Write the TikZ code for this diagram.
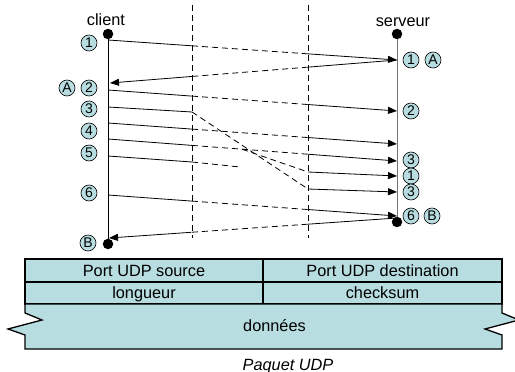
\documentclass[tikz,border=0pt]{standalone}
\usepackage{fontspec}
\setmainfont{Liberation Sans}
\usetikzlibrary{arrows.meta,calc}
\definecolor{pale}{RGB}{184,221,224}
\definecolor{srvgray}{RGB}{115,115,115}
\begin{document}
\begin{tikzpicture}[x=1pt,y=-1pt,
  num/.style={circle,draw=black,fill=pale,line width=0.6pt,inner sep=0pt,minimum size=16pt,font=\fontsize{14}{15}\selectfont},
  lbl/.style={inner sep=0pt,anchor=base,font=\fontsize{16.3}{19}\selectfont},
  msg/.style={line width=0.8pt},
  dmsg/.style={line width=0.8pt,dash pattern=on 6pt off 4pt},
  amsg/.style={line width=0.8pt,-{Triangle[length=9pt,width=7pt]}},
  net/.style={line width=0.8pt,dash pattern=on 6pt off 4pt},
  cell/.style={draw=black,fill=pale,line width=1.3pt},
  dot/.style={circle,fill=black,inner sep=0pt,minimum size=10.5pt}
]
\clip (0,0) rectangle (515,372);

% network zone borders
\coordinate (n1t) at (192,5); \coordinate (n1b) at (192,238);
\coordinate (n2t) at (308,5); \coordinate (n2b) at (308,238);
\draw[net] (n1t) -- (n1b);
\draw[net] (n2t) -- (n2b);

% timelines
\coordinate (ctp) at (108,34); \coordinate (cbp) at (108,244);
\coordinate (stp) at (397,34); \coordinate (sbp) at (397,222);
\draw[line width=0.8pt] (ctp) -- (cbp);
\draw[line width=1pt,srvgray] (stp) -- (sbp);
\node[dot] (ct) at (ctp) {};
\node[dot] (cb) at (cbp) {};
\node[dot] (st) at (stp) {};

\node[lbl] (client) at (106,26) {client};
\node[lbl] (serveur) at (403,26.5) {serveur};

% message end points
\coordinate (m1s) at (108,40);  \coordinate (m1e) at (397,60);
\coordinate (mAs) at (397,60);  \coordinate (mAe) at (110,83);
\coordinate (m2s) at (108,90);  \coordinate (m2e) at (397,111);
\coordinate (m4s) at (108,123); \coordinate (m4e) at (397,144);
\coordinate (mXs) at (108,139); \coordinate (mXe) at (397,161);
\coordinate (m6s) at (108,195); \coordinate (m6e) at (397,216);
\coordinate (mBs) at (397,218); \coordinate (mBe) at (109,238);

% client -> server messages (solid / dashed in network / solid)
\foreach \m in {m1,m2,m4,mX,m6}{
  \draw[msg] (\m s) -- ($(\m s)!0.2907!(\m e)$);
  \draw[dmsg] ($(\m s)!0.2907!(\m e)$) -- ($(\m s)!0.692!(\m e)$);
  \draw[amsg] ($(\m s)!0.692!(\m e)$) -- (\m e);
}
% server -> client messages
\foreach \m in {mA,mB}{
  \draw[msg] (\m s) -- ($(\m s)!0.310!(\m e)$);
  \draw[dmsg] ($(\m s)!0.310!(\m e)$) -- ($(\m s)!0.714!(\m e)$);
  \draw[amsg] ($(\m s)!0.714!(\m e)$) -- (\m e);
}

% bottom server dot drawn over the arrow tips
\node[dot] (sb) at (sbp) {};

% delayed packet 3
\coordinate (m3s) at (108,107); \coordinate (m3a) at (192,112);
\coordinate (m3b) at (308,189); \coordinate (m3e) at (397,192);
\draw[msg] (m3s) -- (m3a);
\draw[dmsg] (m3a) -- (m3b);
\draw[amsg] (m3b) -- (m3e);

% duplicated branch
\coordinate (mDa) at ($(mXs)!0.4637!(mXe)$);
\coordinate (mDb) at (308,172); \coordinate (mDe) at (397,176);
\draw[dmsg] (mDa) -- (mDb);
\draw[amsg] (mDb) -- (mDe);

% lost packet 5
\coordinate (m5s) at (108,156); \coordinate (m5a) at (192,162);
\coordinate (m5e) at (240,167);
\draw[msg] (m5s) -- (m5a);
\draw[dmsg] (m5a) -- (m5e);

% client labels
\node[num] (c1) at (89,43) {1};
\node[num] (cA) at (67,88) {A};
\node[num] (c2) at (89,88) {2};
\node[num] (c3) at (89,109) {3};
\node[num] (c4) at (89,131) {4};
\node[num] (c5) at (89,153) {5};
\node[num] (c6) at (89,193) {6};
\node[num] (cB) at (88,243) {B};

% server labels
\node[num] (s1) at (411,60) {1};
\node[num] (sA) at (433,60) {A};
\node[num] (s2) at (411,111) {2};
\node[num] (s3) at (411,160) {3};
\node[num] (s1b) at (411,176) {1};
\node[num] (s3b) at (411,192) {3};
\node[num] (s6) at (411,216) {6};
\node[num] (sB) at (432,216) {B};

% UDP packet
\draw[cell] (25,259) rectangle (263,282);
\draw[cell] (263,259) rectangle (502,282);
\draw[cell] (25,282) rectangle (263,304);
\draw[cell] (263,282) rectangle (502,304);
\draw[cell,line join=miter] (25,304) -- (502,304) -- (502,313) -- (519,320) -- (485,329) -- (502,335) -- (502,349)
   -- (25,349) -- (25,335) -- (8,329) -- (42,320) -- (25,313) -- cycle;

\node[lbl] (src) at (144,276.5) {Port UDP source};
\node[lbl] (dst) at (382.5,276.5) {Port UDP destination};
\node[lbl] (len) at (144,298.5) {longueur};
\node[lbl] (chk) at (382.5,298.5) {checksum};
\node[lbl] (dat) at (274.5,331) {données};
\node[lbl,font=\fontsize{16.3}{19}\selectfont\itshape] (cap) at (288,370) {Paquet UDP};
\end{tikzpicture}
\end{document}
